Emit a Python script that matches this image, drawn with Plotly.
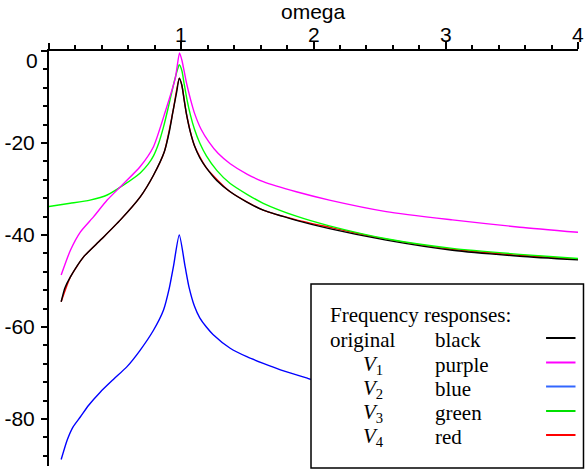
import plotly.graph_objects as go

# ---------------- data ----------------
black_x = [0.092, 0.12, 0.162, 0.263, 0.389, 0.54, 0.69, 0.79, 0.872, 0.91, 0.937, 0.965, 0.985,
           1.005, 1.02, 1.04, 1.065, 1.1, 1.14, 1.19, 1.27, 1.37, 1.5, 1.62, 1.87, 2.12, 2.55,
           3.05, 3.56, 4.0]
black_y = [-54.5, -51.5, -49.1, -44.7, -41.1, -36.7, -31.7, -27.0, -21.9, -17.5, -13.2, -9.0, -5.9,
           -7.5, -10.3, -13.8, -17.2, -20.6, -23.2, -25.4, -28.2, -30.6, -32.9, -34.6, -36.8, -38.6,
           -41.1, -43.3, -44.6, -45.4]

purple_x = [0.092, 0.162, 0.238, 0.338, 0.44, 0.565, 0.69, 0.79, 0.879, 0.955, 0.987,
            1.005, 1.04, 1.07, 1.1, 1.15, 1.21, 1.28, 1.37, 1.5, 1.62, 1.87, 2.12, 2.55, 3.05,
            3.56, 4.0]
purple_y = [-48.7, -43.3, -39.3, -36.0, -32.4, -28.8, -25.1, -20.8, -13.2, -5.9, -0.4,
            -2.0, -7.0, -10.5, -13.5, -17.0, -19.8, -22.3, -24.5, -26.8, -28.4, -30.6, -32.4,
            -34.9, -36.7, -38.3, -39.4]

blue_x = [0.092, 0.137, 0.18, 0.238, 0.3, 0.389, 0.49, 0.59, 0.69, 0.79, 0.866, 0.91, 0.94, 0.985,
          1.03, 1.06, 1.1, 1.14, 1.19, 1.24, 1.37, 1.5, 1.62, 1.75, 1.96, 1.98]
blue_y = [-88.8, -84.6, -81.8, -79.5, -77.0, -74.1, -71.3, -68.6, -65.0, -60.7, -56.3, -51.5,
          -47.0, -40.0, -47.0, -51.5, -55.5, -58.0, -60.0, -61.6, -64.6, -66.5, -67.9, -69.3,
          -71.2, -71.4]

green_x = [0.0, 0.16, 0.31, 0.44, 0.565, 0.69, 0.75, 0.79, 0.83, 0.866, 0.9, 0.94, 0.97, 0.985,
           1.005, 1.02, 1.043, 1.07, 1.1, 1.14, 1.19, 1.27, 1.37, 1.5, 1.62, 1.87, 2.12, 2.55,
           3.05, 3.56, 4.0]
green_y = [-33.8, -33.1, -32.4, -31.3, -29.1, -26.5, -24.6, -22.8, -20.0, -16.5, -12.5, -7.5,
           -4.2, -3.0, -4.3, -6.8, -10.5, -14.0, -17.0, -20.0, -22.8, -26.0, -28.8, -31.2,
           -33.1, -35.9, -38.0, -40.8, -42.9, -44.2, -45.1]

red_x = [0.092, 0.162, 0.263, 0.389, 0.54, 0.69, 0.79, 0.872, 0.937, 0.985,
         1.005, 1.04, 1.1, 1.19, 1.37, 1.62, 1.87, 2.12, 2.55, 3.05, 3.56, 4.0]
red_y = [-54.5, -49.1, -44.7, -41.1, -36.7, -31.7, -27.0, -21.9, -13.2, -5.9,
         -7.5, -13.8, -20.6, -25.4, -30.6, -34.6, -36.7, -38.3, -40.9, -43.1, -44.4, -45.25]

x_tick_vals = [1, 2, 3, 4]
x_tick_text = ["1", "2", "3", "4"]
y_tick_vals = [0, -20, -40, -60, -80]
y_tick_text = ["", "-20", "-40", "-60", "-80"]
x_label = "omega"

legend_title = "Frequency responses:"
legend_names = ["original", "<i>V</i><sub>1</sub>", "<i>V</i><sub>2</sub>",
                "<i>V</i><sub>3</sub>", "<i>V</i><sub>4</sub>"]
legend_colors_txt = ["black", "purple", "blue", "green", "red"]
legend_swatch = ["#000000", "#FF00FF", "#3366FF", "#00E000", "#FF0000"]

# ---------------- layout geometry ----------------
W, H = 586, 470
L, R, T, B = 48.5, 7.5, 51, 4
PW, PH = W - L - R, H - T - B


def px(xp):
    return (xp - L) / PW


def py(yp):
    return (H - B - yp) / PH


fig = go.Figure()

traces = [
    (red_x, red_y, "#FF0000"),
    (black_x, black_y, "#000000"),
    (blue_x, blue_y, "#0000FF"),
    (green_x, green_y, "#00FF00"),
    (purple_x, purple_y, "#FF00FF"),
]
for xs, ys, c in traces:
    fig.add_trace(go.Scatter(x=xs, y=ys, mode="lines",
                             line=dict(color=c, width=1.4, shape="spline", smoothing=0.6),
                             showlegend=False, hoverinfo="skip"))

axis_font = dict(family="Liberation Sans, Arial, sans-serif", size=21, color="black")

fig.update_layout(
    width=W, height=H,
    margin=dict(l=L, r=R, t=T, b=B, pad=0),
    paper_bgcolor="white", plot_bgcolor="white",
    showlegend=False,
    xaxis=dict(range=[0, 4], side="top", showline=True, linecolor="black", linewidth=2,
               automargin=False,
               showgrid=False, zeroline=False, tickvals=x_tick_vals,
               ticktext=[""] * len(x_tick_vals),
               ticks="outside", ticklen=7, tickwidth=1.5, tickcolor="black",
               tickfont=axis_font,
               minor=dict(dtick=0.2, tick0=0, ticks="outside", ticklen=4, tickwidth=1.5,
                          tickcolor="black", showgrid=False)),
    yaxis=dict(range=[-90.2, 0], showline=True, linecolor="black", linewidth=2,
               automargin=False,
               showgrid=False, zeroline=False, tickvals=y_tick_vals, ticktext=y_tick_text,
               ticks="outside", ticklen=6, tickwidth=1.5, tickcolor="black",
               tickfont=axis_font, ticklabelstandoff=2,
               minor=dict(dtick=4, tick0=0, ticks="outside", ticklen=4, tickwidth=1.5,
                          tickcolor="black", showgrid=False)),
)

shapes = []
# y-axis extension above the x-axis
shapes.append(dict(type="line", xref="paper", yref="paper", x0=0, x1=0, y0=1, y1=py(43),
                   line=dict(color="black", width=2)))
# legend box
shapes.append(dict(type="rect", xref="paper", yref="paper", x0=px(311), x1=px(584),
                   y0=py(468), y1=py(284), fillcolor="white",
                   line=dict(color="black", width=1.5), layer="above"))
annotations = []
annotations.append(dict(text=x_label, xref="paper", yref="paper", x=px(313.5), y=py(12),
                        xanchor="center", yanchor="middle", showarrow=False,
                        font=dict(family="Liberation Sans, Arial, sans-serif", size=21, color="black")))
annotations.append(dict(text="0", xref="paper", yref="paper", x=px(39), y=py(61),
                        xanchor="right", yanchor="middle", showarrow=False, font=axis_font))
# x tick labels sitting just above the top axis
for v, t in zip(x_tick_vals, x_tick_text):
    annotations.append(dict(text=t, xref="x", yref="paper", x=v, y=py(35),
                            xanchor="center", yanchor="middle", showarrow=False, font=axis_font))

serif = dict(family="Liberation Serif, Times New Roman, serif", size=21, color="black")
annotations.append(dict(text=legend_title, xref="paper", yref="paper", x=px(328), y=py(315),
                        xanchor="left", yanchor="middle", showarrow=False, font=serif))
row_y = [340, 364.5, 388.5, 413, 437]
for i, (nm, cn, sw) in enumerate(zip(legend_names, legend_colors_txt, legend_swatch)):
    xl = 328 if i == 0 else 361
    annotations.append(dict(text=nm, xref="paper", yref="paper", x=px(xl), y=py(row_y[i]),
                            xanchor="left", yanchor="middle", showarrow=False, font=serif))
    annotations.append(dict(text=cn, xref="paper", yref="paper", x=px(433), y=py(row_y[i]),
                            xanchor="left", yanchor="middle", showarrow=False, font=serif))
    shapes.append(dict(type="line", xref="paper", yref="paper", x0=px(546.5), x1=px(576),
                       y0=py(row_y[i] - 2), y1=py(row_y[i] - 2),
                       line=dict(color=sw, width=2), layer="above"))

fig.update_layout(shapes=shapes, annotations=annotations)
fig.write_html("out.html", config={"displayModeBar": False},
               post_script="document.body.style.margin='0px';document.body.style.overflow='hidden';")
